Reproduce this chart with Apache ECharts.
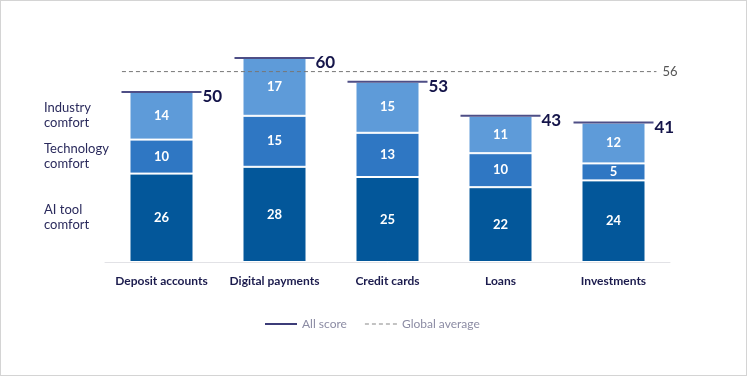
<!DOCTYPE html>
<html>
<head>
<meta charset="utf-8">
<script src="https://cdn.jsdelivr.net/npm/echarts@6/dist/echarts.min.js"></script>
<style>
  html, body { margin: 0; padding: 0; background: #fff; }
  #chart { width: 745px; height: 374px; border: 1px solid #d4d4d4; }
</style>
</head>
<body>
<div id="chart"></div>
<script>
const categories = ['Deposit accounts', 'Digital payments', 'Credit cards', 'Loans', 'Investments'];
const aiTool = [26, 28, 25, 22, 24];
const technology = [10, 15, 13, 10, 5];
const industry = [14, 17, 15, 11, 12];
const allScore = [50, 60, 53, 43, 41];
const globalAverage = 56;
// where the dashed average line starts and ends, in category units
const avgSpan = [-0.35, 4.38];

const segments = [
  {name: 'AI tool\ncomfort', data: aiTool, color: '#03579a'},
  {name: 'Technology\ncomfort', data: technology, color: '#2f77c3'},
  {name: 'Industry\ncomfort', data: industry, color: '#5e9bd9'}
];

const FONT = 'Lato';
const chart = echarts.init(document.getElementById('chart'));

const barSeries = segments.map(s => ({
  type: 'bar',
  name: s.name,
  stack: 'total',
  data: s.data,
  barWidth: 64,
  itemStyle: {color: s.color, borderColor: '#fff', borderWidth: 1},
  label: {
    show: true,
    position: 'inside',
    color: '#fff',
    fontFamily: FONT,
    fontSize: 13,
    fontWeight: 'bold'
  },
  emphasis: {disabled: true}
}));

// names of the segments, placed beside the first bar
let cum = 0;
const segNameData = segments.map(s => {
  const mid = cum + s.data[0] / 2;
  cum += s.data[0];
  return {value: [0, mid], name: s.name};
});

chart.setOption({
  animation: false,
  grid: {left: 104, top: 57, width: 565, height: 204},
  xAxis: [{
    type: 'category',
    data: categories,
    axisLine: {lineStyle: {color: '#e2e2e6'}},
    axisTick: {show: false},
    axisLabel: {
      interval: 0,
      color: '#1b1b4d',
      fontFamily: FONT,
      fontSize: 12,
      fontWeight: 'bold',
      margin: 13
    }
  }, {
    type: 'value',
    min: -0.5,
    max: 4.5,
    show: false
  }],
  yAxis: {type: 'value', min: 0, max: 60, show: false},
  legend: {
    top: 312,
    left: 259,
    itemWidth: 32,
    itemHeight: 14,
    itemGap: 18,
    textStyle: {color: '#8c8ca4', fontFamily: FONT, fontSize: 12},
    selectedMode: false,
    data: [
      {name: 'All score', icon: 'path://M0,0H32V2H0Z', itemStyle: {color: '#3c3c78'}},
      {name: 'Global average', icon: 'path://M0,0H4V1H0Z M7,0H11V1H7Z M14,0H18V1H14Z M21,0H25V1H21Z M28,0H32V1H28Z', itemStyle: {color: '#888'}}
    ]
  },
  series: [
    ...barSeries,
    {
      type: 'scatter',
      name: 'All score',
      data: allScore,
      symbol: 'rect',
      symbolSize: [80, 2],
      itemStyle: {color: '#4e4e86', opacity: 1},
      z: 5,
      label: {
        show: true,
        position: 'right',
        distance: 1,
        offset: [0, 5],
        color: '#15154a',
        fontFamily: FONT,
        fontSize: 17,
        fontWeight: 'bold'
      },
      emphasis: {disabled: true}
    },
    {
      type: 'line',
      name: 'Global average',
      xAxisIndex: 1,
      data: avgSpan.map(x => [x, globalAverage]),
      symbol: 'none',
      lineStyle: {color: '#777', width: 1, type: [4, 3]},
      endLabel: {
        show: true,
        formatter: String(globalAverage),
        color: '#555',
        fontFamily: FONT,
        fontSize: 13,
        distance: 6
      },
      z: 4,
      emphasis: {disabled: true}
    },
    {
      type: 'scatter',
      name: 'segment names',
      data: segNameData,
      symbolSize: 1,
      itemStyle: {color: 'rgba(0,0,0,0)', opacity: 1},
      label: {
        show: true,
        position: [-117, 0],
        verticalAlign: 'middle',
        align: 'left',
        formatter: p => p.name,
        color: '#2a2a5c',
        fontFamily: FONT,
        fontSize: 13,
        lineHeight: 15
      },
      emphasis: {disabled: true}
    }
  ]
});
</script>
</body>
</html>
